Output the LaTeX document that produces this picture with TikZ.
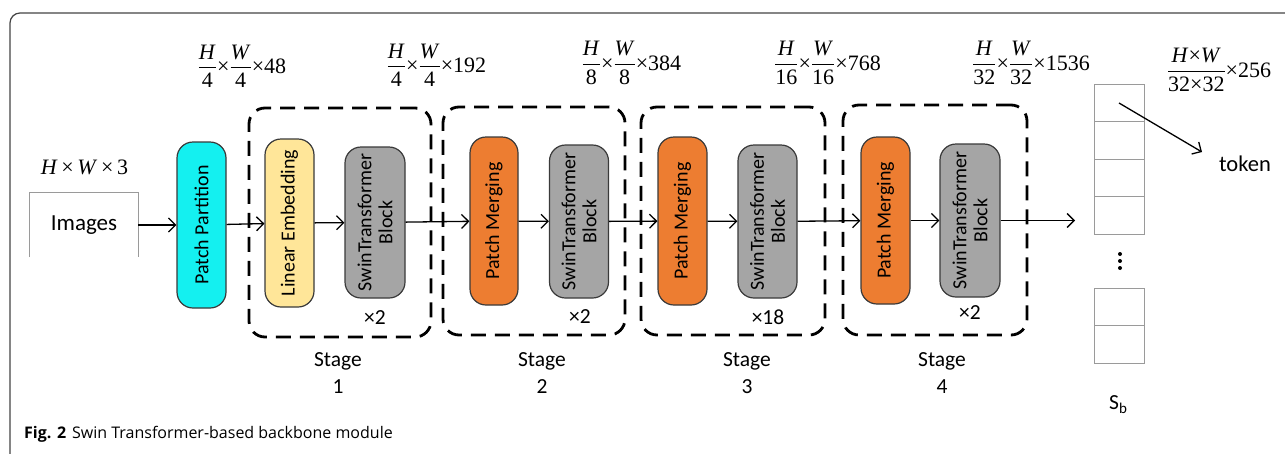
\documentclass[tikz,border=0pt]{standalone}
\usepackage{amsmath}
\usepackage{fontspec}
\setmainfont{Liberation Serif}
\newfontfamily\carl{Carlito}
\newfontfamily\osans{Open Sans}
\usetikzlibrary{arrows.meta}
\definecolor{ppcyan}{HTML}{14F0F0}
\definecolor{leyel}{HTML}{FFE699}
\definecolor{pmor}{HTML}{ED7D31}
\definecolor{swgray}{HTML}{A5A5A5}
\definecolor{edgec}{HTML}{3A3A3A}
\definecolor{cellgray}{HTML}{9A9A9A}
\definecolor{framec}{HTML}{444444}
\newcommand\fr[2]{\genfrac{}{}{1pt}{0}{\hbox{#1}}{\hbox{#2}}}
\newcommand\tm{\hbox{×}}
\begin{document}
\begin{tikzpicture}[x=1pt,y=-1pt,
  blk/.style={draw=edgec, line width=1.2pt, rounded corners=16pt, rotate=90, align=center, inner sep=0pt, font=\carl\fontsize{20}{21}\selectfont},
  stagebox/.style={draw=black, line width=2.8pt, dash pattern=on 15pt off 9pt, rounded corners=16pt},
  conn/.style={draw=black, line width=1.3pt, -{Straight Barb[length=7pt,width=14pt]}},
  lab/.style={font=\carl\fontsize{21.5}{27}\selectfont, align=center, inner sep=0pt},
  dim/.style={font=\fontsize{22}{24}\selectfont, inner sep=0pt},
  cell/.style={draw=cellgray, line width=1pt, minimum width=50pt, minimum height=37.5pt, inner sep=0pt}]
\useasboundingbox (0,0) rectangle (1285,453);
\clip (0,0) rectangle (1285,453);
\fill[white] (0,0) rectangle (1285,453);
\draw[framec, line width=1.2pt, rounded corners=10pt] (10,490) -- (10,13) -- (1320,13);

% input
\node[dim] (in3) at (84.5,167) {\textit{H}\,×\,\textit{W}\,×\,3};
\node[font=\carl\fontsize{23}{25}\selectfont, minimum width=108pt, minimum height=64pt, inner sep=0pt] (img) at (84,225) {Images};
\draw[cellgray, line width=1pt] (img.south west) -- (img.north west) -- (img.north east) -- (img.south east);

% stage boxes
\node[stagebox, minimum width=182pt, minimum height=229pt] (st1) at (340,222.5) {};
\node[stagebox, minimum width=182pt, minimum height=228pt] (st2) at (534,221) {};
\node[stagebox, minimum width=184pt, minimum height=228pt] (st3) at (733,221) {};
\node[stagebox, minimum width=184pt, minimum height=230pt] (st4) at (935,220) {};

% blocks
\node[blk, fill=ppcyan, minimum width=166pt, minimum height=49pt] (pp) at (201.5,225) {Patch Partition};
\node[blk, fill=leyel, minimum width=168pt, minimum height=49pt] (le) at (289.5,223) {Linear Embedding};
\node[blk, fill=swgray, minimum width=151pt, minimum height=60pt] (sw1) at (375,222.5) {SwinTransformer\\Block};
\node[blk, fill=pmor, minimum width=168pt, minimum height=48pt] (pm2) at (494,221) {Patch Merging};
\node[blk, fill=swgray, minimum width=153pt, minimum height=59pt] (sw2) at (579,221.5) {SwinTransformer\\Block};
\node[blk, fill=pmor, minimum width=168pt, minimum height=49pt] (pm3) at (682.5,221) {Patch Merging};
\node[blk, fill=swgray, minimum width=153pt, minimum height=59pt] (sw3) at (767.5,221.5) {SwinTransformer\\Block};
\node[blk, fill=pmor, minimum width=167pt, minimum height=49pt] (pm4) at (885.5,220.5) {Patch Merging};
\node[blk, fill=swgray, minimum width=153pt, minimum height=60pt] (sw4) at (970,220.5) {SwinTransformer\\Block};
\coordinate (outend) at (1075,220.5);

% connectors
\draw[conn] (img) -- (pp);
\draw[conn] (pp) -- (le);
\draw[conn] (le) -- (sw1);
\draw[conn] (sw1) -- (pm2);
\draw[conn] (pm2) -- (sw2);
\draw[conn] (sw2) -- (pm3);
\draw[conn] (pm3) -- (sw3);
\draw[conn] (sw3) -- (pm4);
\draw[conn] (pm4) -- (sw4);
\draw[conn] (sw4) -- (outend);

% multipliers
\node[lab] (m1) at (375,318) {×2};
\node[lab] (m2) at (580,317) {×2};
\node[lab] (m3) at (768,317) {×18};
\node[lab] (m4) at (970,313) {×2};

% stage labels
\node[lab] (s1) at (338,373) {Stage\\1};
\node[lab] (s2) at (542,373) {Stage\\2};
\node[lab] (s3) at (747,373) {Stage\\3};
\node[lab] (s4) at (942,373) {Stage\\4};

% dimension labels
\node[dim] (d1) at (242,66) {$\fr{\textit{H}}{4}\tm\fr{\textit{W}}{4}\hbox{×48}$};
\node[dim] (d2) at (436.5,65) {$\fr{\textit{H}}{4}\tm\fr{\textit{W}}{4}\hbox{×192}$};
\node[dim] (d3) at (631.5,63) {$\fr{\textit{H}}{8}\tm\fr{\textit{W}}{8}\hbox{×384}$};
\node[dim] (d4) at (827.5,63) {$\fr{\textit{H}}{16}\tm\fr{\textit{W}}{16}\hbox{×768}$};
\node[dim] (d5) at (1031,63) {$\fr{\textit{H}}{32}\tm\fr{\textit{W}}{32}\hbox{×1536}$};
\node[dim] (d6) at (1219,70) {$\fr{\textit{H}×\textit{W}}{32×32}\hbox{×256}$};

% token column
\node[cell] (c1) at (1119,103) {};
\node[cell] (c2) at (1119,140.5) {};
\node[cell] (c3) at (1119,178) {};
\node[cell] (c4) at (1119,215.5) {};
\node[cell] (c5) at (1119,307) {};
\node[cell] (c6) at (1119,344.5) {};
\fill (1120,254) circle (2pt);
\fill (1120,261) circle (2pt);
\fill (1120,268) circle (2pt);
\coordinate (te) at (1202,152);
\draw[conn] (c1.center) -- (te);
\node[lab, font=\carl\fontsize{22.5}{25}\selectfont] (tok) at (1245,164) {token};
\node[lab] (sb) at (1118,405) {S\raisebox{-4pt}{\fontsize{15}{15}\selectfont b}};

% caption
\node[anchor=west, inner sep=0pt, font=\osans\fontsize{16}{18}\selectfont] (cap) at (24,434) {\textbf{Fig. 2}\hspace{6pt}Swin Transformer-based backbone module};
\end{tikzpicture}
\end{document}
